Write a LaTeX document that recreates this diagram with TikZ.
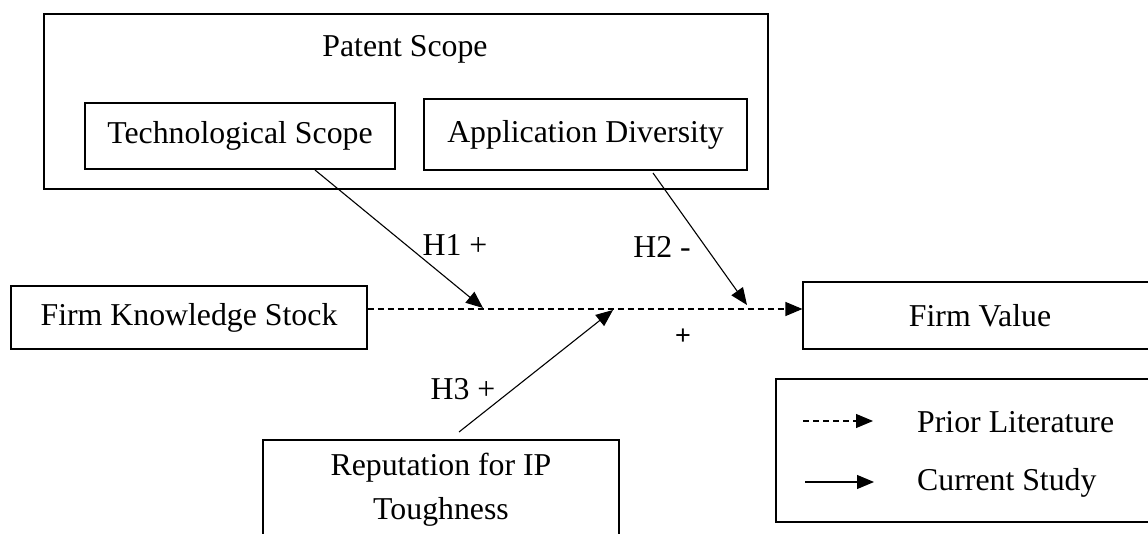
\documentclass[tikz,border=0pt]{standalone}
\usepackage{fontspec}
\setmainfont{Liberation Serif}
\newfontfamily\plusfont{Liberation Sans}
\usetikzlibrary{arrows.meta}
\begin{document}
\begin{tikzpicture}[x=1pt,y=-1pt,
  txt/.style={font=\fontsize{31.8}{38}\selectfont, inner sep=0pt},
  box/.style={txt, draw=black, line width=1.1pt, align=center},
  bigbox/.style={draw=black, line width=2.4pt, inner sep=0pt},
  arr/.style={line width=1.1pt, -{Triangle[length=17pt,width=14pt]}},
  dasharr/.style={arr, dash pattern=on 6pt off 4pt}]
\useasboundingbox (0,0) rectangle (1148,534);
\clip (0,0) rectangle (1148,534);
\fill[white] (0,0) rectangle (1148,534);

% Patent scope group
\node[bigbox, minimum width=724pt, minimum height=175pt] (patent) at (406,101.5) {};
\node[txt] (pstitle) at (405,49) {Patent Scope};
\node[box, minimum width=310pt, minimum height=66pt] (tech) at (240,136) {Technological Scope};
\node[box, minimum width=323pt, minimum height=71pt] (app) at (585.5,134.5) {Application Diversity};

% main row
\node[box, minimum width=356pt, minimum height=63pt] (fks) at (189,317.5) {Firm Knowledge Stock};
\node[box, minimum width=354pt, minimum height=67pt] (fv) at (980,315.5) {Firm Value};
\node[box, minimum width=356pt, minimum height=100pt] (rep) at (441,490) {Reputation for IP\\[6pt]Toughness};

% connectors
\coordinate (mid) at (0,309);
\draw[dasharr] (fks.east |- mid) -- (fv.west |- mid);

\coordinate (h1s) at (315,170);
\coordinate (h1e) at (483,308);
\draw[arr] (h1s) -- (h1e);
\coordinate (h2s) at (653,173);
\coordinate (h2e) at (747,305);
\draw[arr] (h2s) -- (h2e);
\coordinate (h3s) at (459,432);
\coordinate (h3e) at (613,310);
\draw[arr] (h3s) -- (h3e);

% labels
\node[txt] (lh1) at (455,245) {H1 +};
\node[txt] (lh2) at (662,247) {H2 -};
\node[txt] (lh3) at (463,389) {H3 +};
\node[font=\plusfont\fontsize{27}{30}\selectfont, inner sep=0pt] (plus) at (683,337) {+};

% legend
\node[bigbox, minimum width=381pt, minimum height=143pt] (legend) at (966.5,450.5) {};
\node[txt, anchor=west] (lt1) at (917,422) {Prior Literature};
\node[txt, anchor=west] (lt2) at (917,483) {Current Study};
\coordinate (l1s) at (803,421);
\coordinate (l1e) at (873,421);
\draw[dasharr] (l1s) -- (l1e);
\coordinate (l2s) at (805,482);
\coordinate (l2e) at (874,482);
\draw[arr] (l2s) -- (l2e);
\end{tikzpicture}
\end{document}
